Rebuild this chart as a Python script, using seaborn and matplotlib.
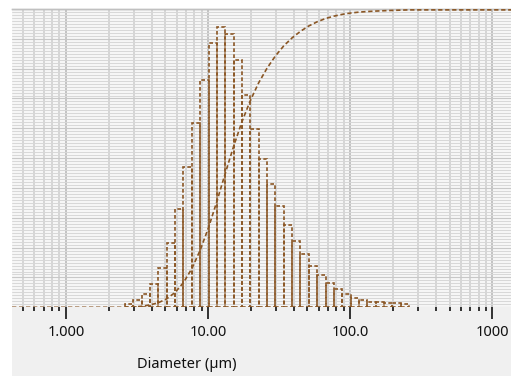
import numpy as np
import seaborn as sns
import matplotlib.pyplot as plt
from matplotlib.patches import Rectangle
from matplotlib.ticker import FixedLocator, FixedFormatter, LogLocator, MultipleLocator, NullFormatter

# size classes (µm), 17 per decade
bin_edges = [2.600, 2.977, 3.409, 3.903, 4.469, 5.117, 5.859, 6.709, 7.682, 8.796,
             10.07, 11.53, 13.20, 15.12, 17.31, 19.82, 22.70, 25.99, 29.76, 34.07,
             39.01, 44.67, 51.15, 58.57, 67.06, 76.78, 87.92, 100.7, 115.3, 132.0,
             151.1, 173.0, 198.1, 226.9, 259.8]
# volume % in each class
volume_pct = [0.11, 0.24, 0.44, 0.77, 1.31, 2.14, 3.30, 4.70, 6.19, 7.63,
              8.86, 9.38, 9.16, 8.28, 7.13, 5.98, 4.98, 4.13, 3.38, 2.76,
              2.22, 1.79, 1.39, 1.08, 0.83, 0.60, 0.44, 0.30, 0.23, 0.19,
              0.17, 0.15, 0.13, 0.12]
# cumulative curve (undersize %)
cdf_diameter = [0.417] + bin_edges + [1354]
cdf_pct = [0, 0, 0.1, 0.35, 0.8, 1.55, 2.85, 5.0, 8.3, 13.0, 19.2,
           26.8, 35.6, 45.0, 54.1, 62.4, 69.5, 75.5, 80.4, 84.5, 87.9,
           90.6, 92.8, 94.6, 96.0, 97.1, 97.9, 98.5, 98.95, 99.25, 99.45,
           99.6, 99.72, 99.83, 99.92, 100, 100]

tick_values = [1, 10, 100, 1000]
tick_labels = ["1.000", "10.00", "100.0", "1000"]
brown = "#8a5624"

sns.set_style("white")
plt.rcParams['font.family'] = ['Noto Sans', 'DejaVu Sans']

fig = plt.figure(figsize=(5.11, 3.76), dpi=100, facecolor="white")
fig.patches.append(Rectangle((12 / 511, 0), 1, 367 / 376, transform=fig.transFigure,
                             facecolor="#f0f0f0", edgecolor="none", zorder=-10))
ax = fig.add_axes([12 / 511, 68.7 / 376, 499 / 511, 298.3 / 376])
ax.set_facecolor("#f6f6f6")

centers = np.sqrt(np.array(bin_edges[:-1]) * np.array(bin_edges[1:]))
sns.histplot(x=centers, weights=volume_pct, bins=len(volume_pct),
             binrange=(np.log10(bin_edges[0]), np.log10(bin_edges[-1])),
             log_scale=True, fill=False, color=brown, linewidth=1.2,
             linestyle=(0, (2.2, 1.4)), ax=ax, zorder=3)
ax.set_xlim(0.417, 1354)
ax.set_ylim(0, 10)

ax2 = ax.twinx()
sns.lineplot(x=cdf_diameter, y=cdf_pct, ax=ax2, color=brown, linewidth=1.2,
             linestyle=(0, (2.6, 1.6)), zorder=4)
ax2.set_ylim(0, 100.3)
ax2.set_xlim(0.417, 1354)

# grid
ax.xaxis.set_major_locator(FixedLocator(tick_values))
ax.xaxis.set_major_formatter(FixedFormatter(tick_labels))
ax.xaxis.set_minor_locator(LogLocator(base=10, subs=np.arange(2, 10), numticks=20))
ax.xaxis.set_minor_formatter(NullFormatter())
ax.yaxis.set_major_locator(MultipleLocator(1))
ax.yaxis.set_minor_locator(MultipleLocator(0.1))
ax.set_axisbelow(True)
ax.grid(axis="y", which="minor", color="#d8d8d8", linewidth=0.7)
ax.grid(axis="y", which="major", color="#c8c8c8", linewidth=0.8)
ax.grid(axis="x", which="minor", color="#cdcdcd", linewidth=1.1)
ax.grid(axis="x", which="major", color="#b5b5b5", linewidth=1.1)

ax.tick_params(axis="x", which="major", bottom=True, length=8.5, width=1.3, color="#222222",
               pad=4, labelsize=10.5, labelcolor="#111111")
ax.tick_params(axis="x", which="minor", bottom=True, length=3.2, width=1.3, color="#222222")
ax.tick_params(axis="y", which="both", left=False, labelleft=False)
ax2.tick_params(axis="y", which="both", right=False, labelright=False)
ax.set_ylabel("")
ax2.set_ylabel("")

for a in (ax, ax2):
    for side in ("left", "right", "bottom"):
        a.spines[side].set_visible(False)
    a.spines["top"].set_color("#c0c0c0")
    a.spines["top"].set_linewidth(1)

ax.set_xlabel("Diameter (µm)", fontsize=10.5, color="#111111")
ax.xaxis.set_label_coords(0.351, -0.165)
ax.xaxis.label.set_va("top")

plt.savefig("out.png", dpi=100, facecolor=fig.get_facecolor())
